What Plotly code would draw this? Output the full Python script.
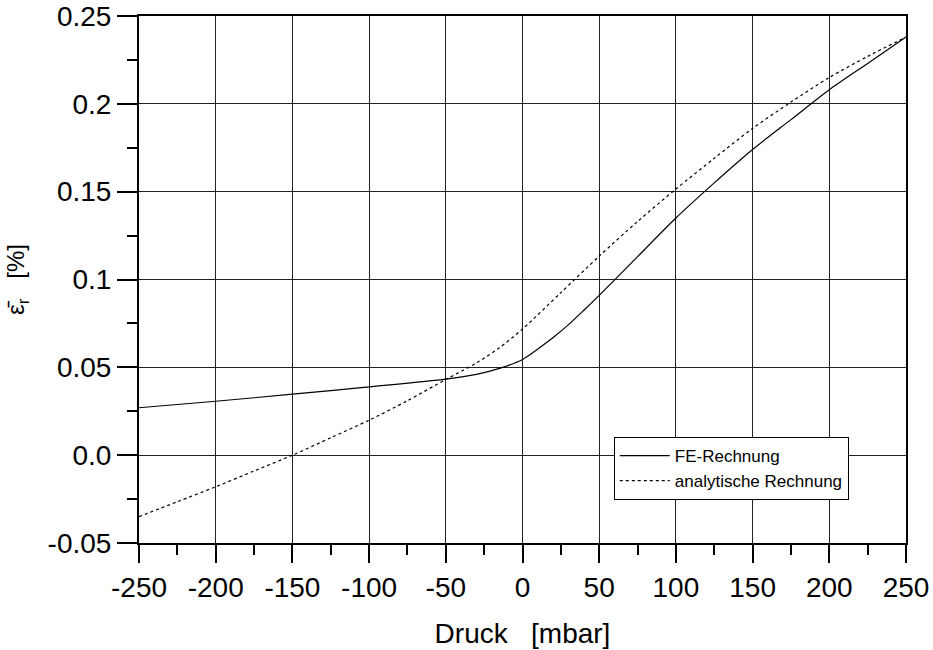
import plotly.graph_objects as go

# Radial strain vs. pressure: FE model and analytical solution
druck_fe = [-250, -200, -150, -100, -50, -30, -15, 0, 10, 20, 30, 40, 50, 75, 100, 125, 150, 175, 200, 225, 250]
eps_fe = [0.027, 0.0307, 0.0347, 0.0389, 0.0433, 0.046, 0.0494, 0.0545, 0.0605, 0.067, 0.0743, 0.0825, 0.091,
          0.113, 0.135, 0.155, 0.174, 0.191, 0.208, 0.223, 0.238]

druck_an = [-250, -225, -200, -175, -150, -125, -100, -75, -50, -30, -15, 0, 25, 50, 75, 100, 125, 150, 175, 200, 225, 250]
eps_an = [-0.035, -0.0265, -0.018, -0.009, 0.0, 0.0099, 0.0199, 0.031, 0.0431, 0.0525, 0.0612, 0.0718,
          0.0925, 0.1133, 0.133, 0.1515, 0.169, 0.186, 0.201, 0.215, 0.227, 0.238]

x_ticks = [-250, -200, -150, -100, -50, 0, 50, 100, 150, 200, 250]
x_tick_text = ["-250", "-200", "-150", "-100", "-50", "0", "50", "100", "150", "200", "250"]
y_ticks = [-0.05, 0.0, 0.05, 0.1, 0.15, 0.2, 0.25]
y_tick_text = ["-0.05", "0.0", "0.05", "0.1", "0.15", "0.2", "0.25"]

FONT = "Liberation Sans, Arial, sans-serif"
AXIS_FONT = dict(family=FONT, size=28, color="black")

fig = go.Figure()
fig.add_trace(go.Scatter(
    x=druck_fe, y=eps_fe, mode="lines", name="FE-Rechnung",
    line=dict(color="black", width=1.2, shape="spline", smoothing=0.8),
))
fig.add_trace(go.Scatter(
    x=druck_an, y=eps_an, mode="lines", name="analytische Rechnung",
    line=dict(color="black", width=1.2, dash="3px,3px", shape="spline", smoothing=0.8),
))

axis_common = dict(
    showline=True, linecolor="black", linewidth=2, mirror=True,
    showgrid=True, gridcolor="#222222", gridwidth=1,
    zeroline=False, ticks="outside", tickcolor="black", tickwidth=1.5,
    tickfont=AXIS_FONT, automargin=False,
)

fig.update_xaxes(
    range=[-250, 250], tickvals=x_ticks, ticktext=x_tick_text, ticklen=18,
    minor=dict(dtick=25, ticks="outside", ticklen=10, tickcolor="black", tickwidth=1.5, showgrid=False),
    title=dict(text="Druck   [mbar]", font=AXIS_FONT, standoff=22),
    **axis_common,
)
fig.update_yaxes(
    range=[-0.05, 0.25], tickvals=y_ticks, ticktext=y_tick_text, ticklen=20,
    minor=dict(dtick=0.025, ticks="outside", ticklen=10, tickcolor="black", tickwidth=1.5, showgrid=False),
    title=dict(text="\u03b5\u0304<sub>r</sub>   [%]", font=dict(family=FONT, size=24, color="black"), standoff=16),
    **axis_common,
)

fig.update_layout(
    width=933, height=650,
    margin=dict(l=139, r=27, t=16, b=107),
    paper_bgcolor="white", plot_bgcolor="white",
    showlegend=True,
    legend=dict(
        x=0.619, y=0.201, xanchor="left", yanchor="top",
        bgcolor="white", bordercolor="black", borderwidth=1,
        font=dict(family=FONT, size=17, color="black"),
        itemwidth=50,
    ),
)

fig.write_html("out.html")
